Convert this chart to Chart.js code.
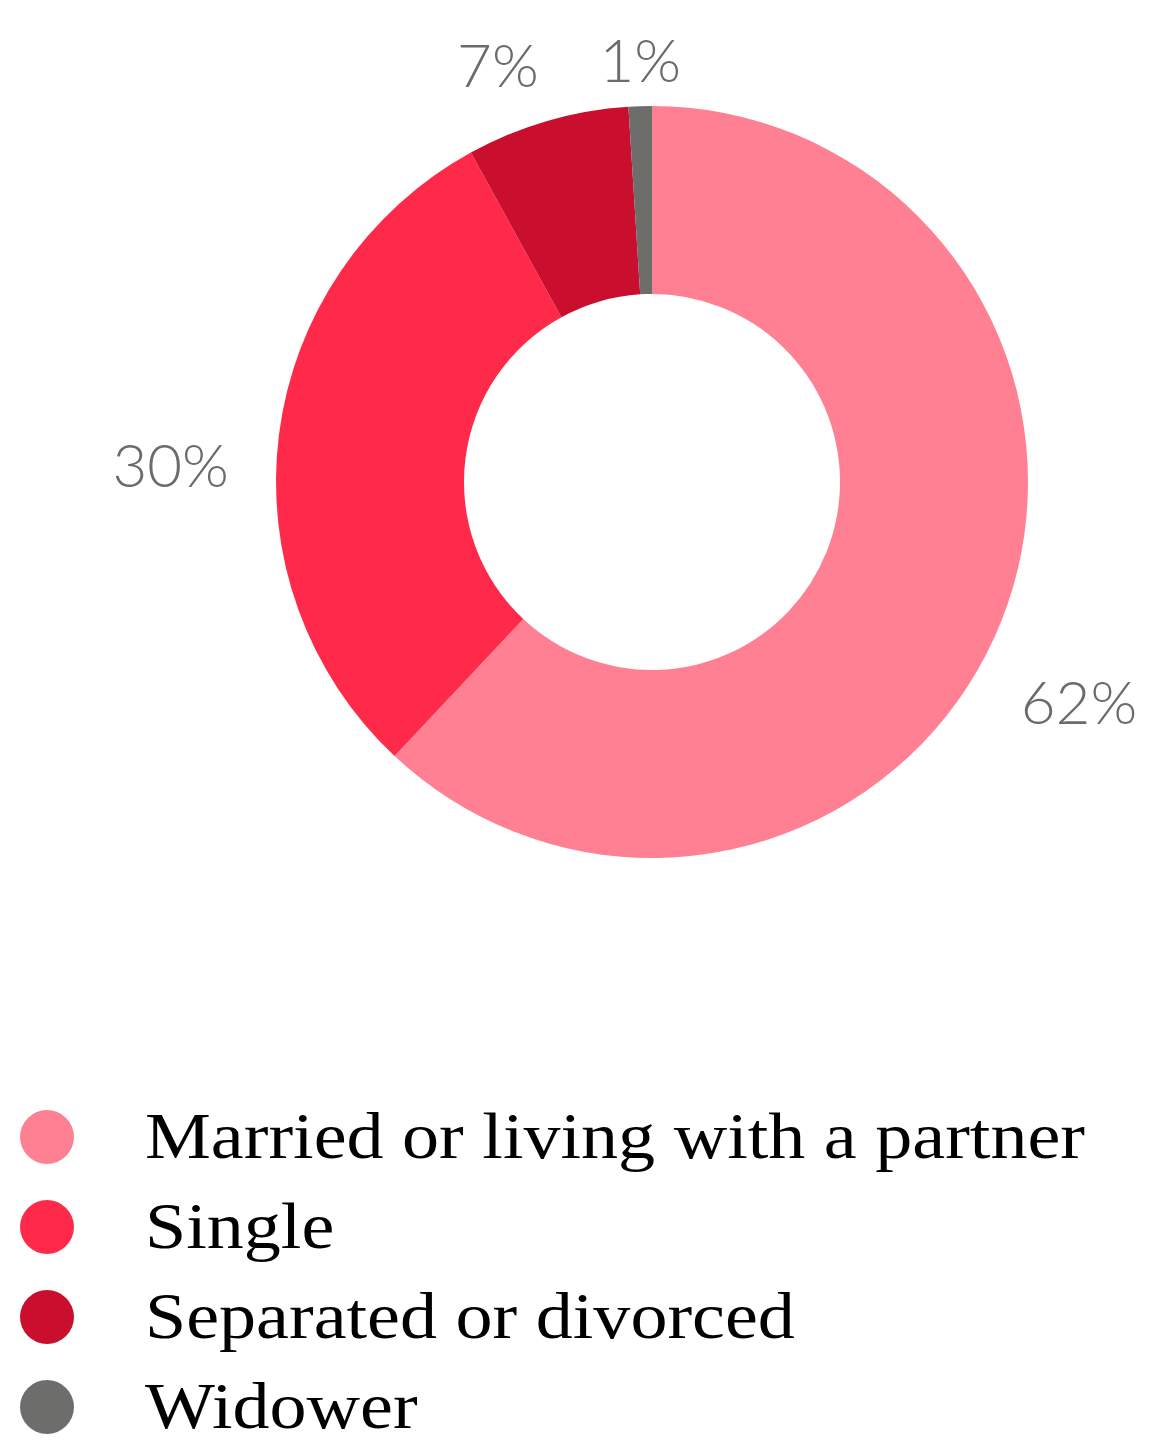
<!DOCTYPE html>
<html>
<head>
<meta charset="utf-8">
<script src="https://cdn.jsdelivr.net/npm/chart.js@4/dist/chart.umd.min.js"></script>
<style>
  html, body { margin: 0; padding: 0; background: #fff; }
  #wrap { width: 1164px; height: 1455px; position: relative; }
</style>
</head>
<body>
<div id="wrap"><canvas id="estadoCivil"></canvas></div>
<script>
// data
var categorias = ['Married or living with a partner', 'Single', 'Separated or divorced', 'Widower'];
var porcentajes = [62, 30, 7, 1];
var colores = ['#FF8092', '#FF2A4A', '#C90F2D', '#6D6D6B'];

// percent labels outside the ring
var etiquetasPct = {
  id: 'etiquetasPct',
  afterDatasetsDraw: function(chart, args, opts) {
    var ctx = chart.ctx;
    var meta = chart.getDatasetMeta(0);
    ctx.save();
    ctx.font = '300 60px Lato, "Open Sans", "Liberation Sans", sans-serif';
    ctx.fillStyle = '#6b6b6b';
    ctx.textAlign = 'center';
    ctx.textBaseline = 'middle';
    meta.data.forEach(function(arc, i) {
      var p = arc.getProps(['x', 'y', 'startAngle', 'endAngle', 'outerRadius'], true);
      var mid = (p.startAngle + p.endAngle) / 2;
      var r = p.outerRadius * 1.25;
      var off = opts.offsets[i] || [0, 0];
      ctx.fillText(porcentajes[i] + '%', p.x + Math.cos(mid) * r + off[0], p.y + Math.sin(mid) * r + off[1]);
    });
    ctx.restore();
  }
};

// legend as a vertical list under the chart
var leyenda = {
  id: 'leyenda',
  afterDraw: function(chart, args, opts) {
    var ctx = chart.ctx;
    ctx.save();
    ctx.font = '66px "Liberation Serif", "Times New Roman", serif';
    ctx.textBaseline = 'middle';
    ctx.textAlign = 'left';
    // stretch the serif to the width of the original (Palatino is wider)
    var sx = opts.ancho / ctx.measureText(categorias[0]).width;
    categorias.forEach(function(cat, i) {
      var y = opts.top + i * opts.step;
      ctx.beginPath();
      ctx.fillStyle = colores[i];
      ctx.arc(47, y, 27, 0, Math.PI * 2);
      ctx.fill();
      ctx.fillStyle = '#000';
      ctx.save();
      ctx.translate(145, y + 4);
      ctx.scale(sx, 1);
      ctx.fillText(cat, 0, 0);
      ctx.restore();
    });
    ctx.restore();
  }
};

var ChartEstadoCivil = new Chart(document.getElementById('estadoCivil'), {
  type: 'doughnut',
  data: {
    labels: categorias,
    datasets: [{
      data: porcentajes,
      backgroundColor: colores,
      borderWidth: 0
    }]
  },
  options: {
    responsive: true,
    maintainAspectRatio: false,
    animation: false,
    cutout: '50%',
    layout: { padding: { top: 106, bottom: 597, left: 200, right: 60 } },
    plugins: {
      legend: { display: false },
      tooltip: { enabled: false },
      etiquetasPct: { offsets: [[-10, 50], [-15, 45], [-23, 37], [3, 50]] },
      leyenda: { top: 1137, step: 90, ancho: 940 }
    }
  },
  plugins: [etiquetasPct, leyenda]
});
</script>
</body>
</html>
